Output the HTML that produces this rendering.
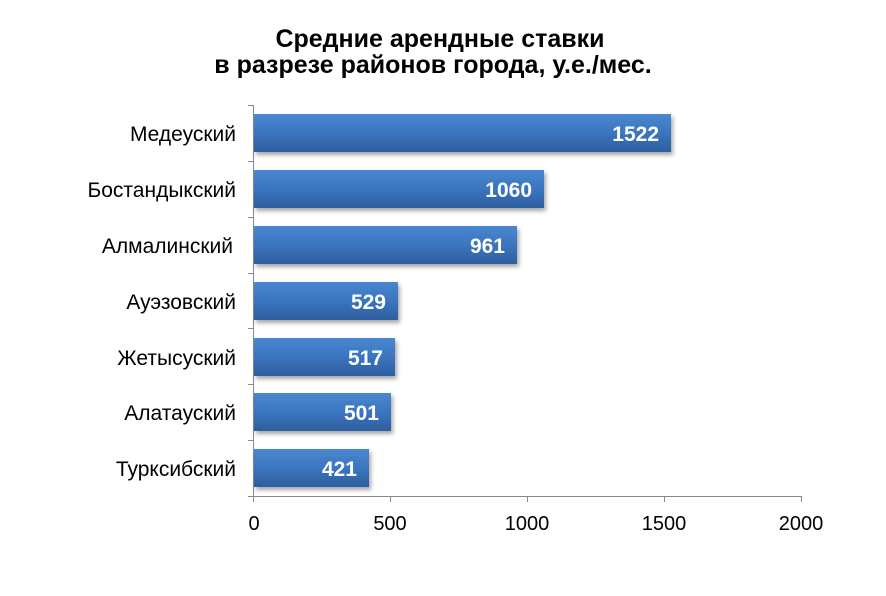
<!DOCTYPE html>
<html><head><meta charset="utf-8"><style>
body{margin:0;background:#fff}
svg text{font-family:"Liberation Sans",sans-serif}
</style></head><body>
<svg width="886" height="591" xmlns="http://www.w3.org/2000/svg">
<defs>
<linearGradient id="g" x1="0" y1="0" x2="0" y2="1">
<stop offset="0" stop-color="#4a88d0"/><stop offset="0.5" stop-color="#3b75c0"/><stop offset="1" stop-color="#2e5e9e"/>
</linearGradient>
<filter id="s" x="-5%" y="-20%" width="115%" height="150%"><feDropShadow dx="2" dy="3" stdDeviation="2" flood-color="#000" flood-opacity="0.35"/></filter>
</defs>
<text x="440" y="47" text-anchor="middle" font-size="25" font-weight="bold">Средние арендные ставки</text>
<text x="433" y="73" text-anchor="middle" font-size="25" font-weight="bold">в разрезе районов города, у.е./мес.</text>
<g stroke="#888" stroke-width="1">
<line x1="253.5" y1="105" x2="253.5" y2="496"/>
<line x1="253" y1="496.5" x2="802" y2="496.5"/>
<line x1="248" y1="105.5" x2="253" y2="105.5"/>
<line x1="248" y1="161.5" x2="253" y2="161.5"/>
<line x1="248" y1="217.5" x2="253" y2="217.5"/>
<line x1="248" y1="273.5" x2="253" y2="273.5"/>
<line x1="248" y1="328.5" x2="253" y2="328.5"/>
<line x1="248" y1="384.5" x2="253" y2="384.5"/>
<line x1="248" y1="440.5" x2="253" y2="440.5"/>
<line x1="248" y1="496.5" x2="253" y2="496.5"/>
<line x1="253.5" y1="496" x2="253.5" y2="502"/>
<line x1="390.5" y1="496" x2="390.5" y2="502"/>
<line x1="527.5" y1="496" x2="527.5" y2="502"/>
<line x1="664.5" y1="496" x2="664.5" y2="502"/>
<line x1="801.5" y1="496" x2="801.5" y2="502"/>
</g>
<g font-size="20" text-anchor="middle">
<text x="254" y="530">0</text><text x="390" y="530">500</text><text x="527" y="530">1000</text><text x="664" y="530">1500</text><text x="801" y="530">2000</text>
</g>
<g filter="url(#s)" fill="url(#g)">
<rect x="254" y="114" width="417" height="38"/>
<rect x="254" y="170" width="290" height="38"/>
<rect x="254" y="226" width="263" height="38"/>
<rect x="254" y="282" width="144" height="38"/>
<rect x="254" y="338" width="141" height="38"/>
<rect x="254" y="393" width="137" height="38"/>
<rect x="254" y="449" width="115" height="38"/>
</g>
<g font-size="21" font-weight="bold" fill="#fff" text-anchor="end">
<text x="659" y="141">1522</text><text x="532" y="197">1060</text><text x="505" y="253">961</text>
<text x="386" y="309">529</text><text x="383" y="365">517</text><text x="379" y="420">501</text><text x="357" y="476">421</text>
</g>
<g font-size="21" text-anchor="end">
<text x="236" y="141">Медеуский</text><text x="236" y="197">Бостандыкский</text><text x="233" y="253">Алмалинский</text>
<text x="236" y="309">Ауэзовский</text><text x="236" y="365">Жетысуский</text><text x="236" y="420">Алатауский</text><text x="236" y="476">Турксибский</text>
</g>
</svg>
</body></html>
